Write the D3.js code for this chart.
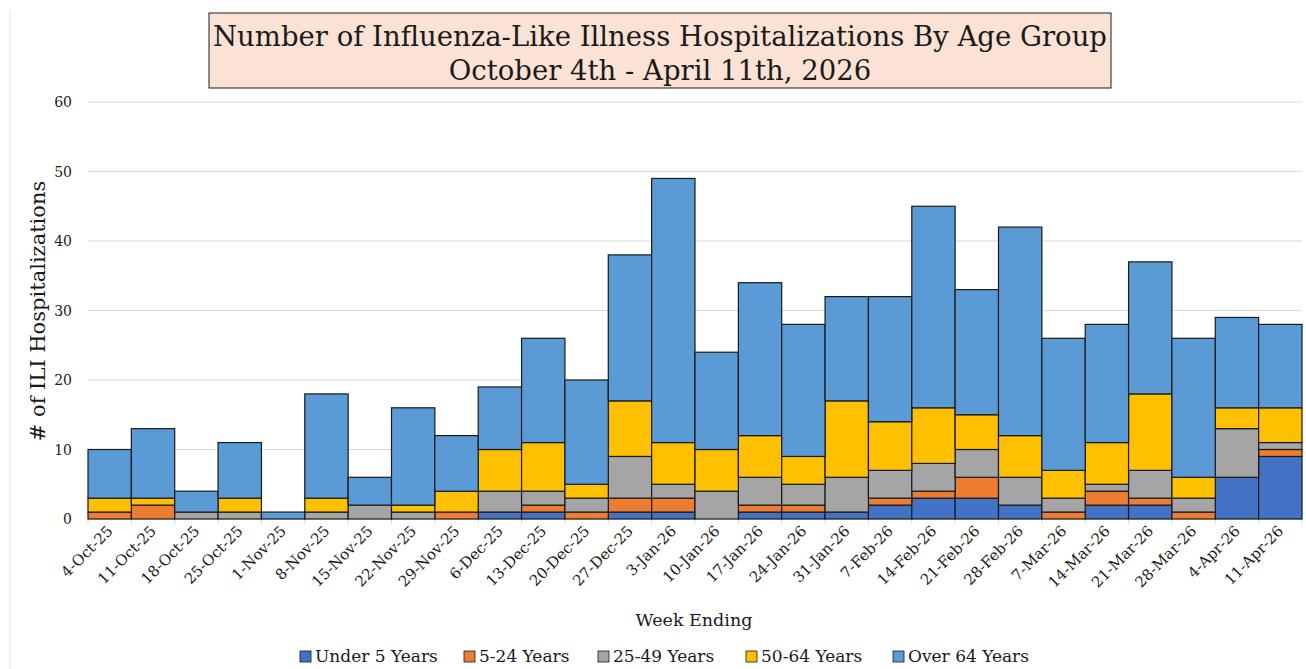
<!DOCTYPE html>
<html>
<head>
<meta charset="utf-8">
<script src="https://cdn.jsdelivr.net/npm/d3@7"></script>
<style>
    body { margin: 0; background: #fff; }
    text { font-family: "DejaVu Serif", Georgia, serif; fill: #1a1a1a; }
</style>
</head>
<body>
<script>
// week ending labels
var weeks = ["4-Oct-25", "11-Oct-25", "18-Oct-25", "25-Oct-25", "1-Nov-25", "8-Nov-25",
    "15-Nov-25", "22-Nov-25", "29-Nov-25", "6-Dec-25", "13-Dec-25", "20-Dec-25",
    "27-Dec-25", "3-Jan-26", "10-Jan-26", "17-Jan-26", "24-Jan-26", "31-Jan-26",
    "7-Feb-26", "14-Feb-26", "21-Feb-26", "28-Feb-26", "7-Mar-26", "14-Mar-26",
    "21-Mar-26", "28-Mar-26", "4-Apr-26", "11-Apr-26"];

var groups = ["Under 5 Years", "5-24 Years", "25-49 Years", "50-64 Years", "Over 64 Years"];

// counts per age group, one per week
var under5  = [0, 0, 0, 0, 0, 0, 0, 0, 0, 1, 1, 0, 1, 1, 0, 1, 1, 1, 2, 3, 3, 2, 0, 2, 2, 0, 6, 9];
var age5_24 = [1, 2, 0, 0, 0, 0, 0, 0, 1, 0, 1, 1, 2, 2, 0, 1, 1, 0, 1, 1, 3, 0, 1, 2, 1, 1, 0, 1];
var age25_49 = [0, 0, 1, 1, 0, 1, 2, 1, 0, 3, 2, 2, 6, 2, 4, 4, 3, 5, 4, 4, 4, 4, 2, 1, 4, 2, 7, 1];
var age50_64 = [2, 1, 0, 2, 0, 2, 0, 1, 3, 6, 7, 2, 8, 6, 6, 6, 4, 11, 7, 8, 5, 6, 4, 6, 11, 3, 3, 5];
var over64  = [7, 10, 3, 8, 1, 15, 4, 14, 8, 9, 15, 15, 21, 38, 14, 22, 19, 15, 18, 29, 18, 30, 19, 17, 19, 20, 13, 12];

var yTicks = [0, 10, 20, 30, 40, 50, 60];

var colors = ["#4472C4", "#ED7D31", "#A5A5A5", "#FFC000", "#5B9BD5"];

var rows = weeks.map(function(w, i) {
    return {
        week: w,
        "Under 5 Years": under5[i],
        "5-24 Years": age5_24[i],
        "25-49 Years": age25_49[i],
        "50-64 Years": age50_64[i],
        "Over 64 Years": over64[i]
    };
});

var width = 1306, height = 669;
var margin = {top: 102, right: 4, bottom: 150, left: 88};

var svg = d3.select("body")
    .append("svg")
    .attr("width", width)
    .attr("height", height);

// faint chart border on the left
svg.append("line")
    .attr("x1", 10).attr("x2", 10)
    .attr("y1", 10).attr("y2", height)
    .style("stroke", "#e6e6e6");

var x = d3.scaleBand()
    .domain(weeks)
    .range([margin.left, width - margin.right])
    .padding(0);

var y = d3.scaleLinear()
    .domain([0, 60])
    .range([height - margin.bottom, margin.top]);

// gridlines
svg.append("g")
    .selectAll("line")
    .data(yTicks)
    .enter()
    .append("line")
    .attr("x1", margin.left)
    .attr("x2", width - margin.right)
    .attr("y1", function(d) { return y(d); })
    .attr("y2", function(d) { return y(d); })
    .style("stroke", "#d9d9d9")
    .style("stroke-width", 1);

// y tick labels
svg.append("g")
    .selectAll("text")
    .data(yTicks)
    .enter()
    .append("text")
    .attr("x", 72)
    .attr("y", function(d) { return y(d) + 5; })
    .attr("text-anchor", "end")
    .style("font-size", "14px")
    .text(function(d) { return d; });

// x tick marks at band edges
svg.append("g")
    .selectAll("line")
    .data(weeks.concat([null]))
    .enter()
    .append("line")
    .attr("x1", function(d, i) { return x.range()[0] + i * x.bandwidth(); })
    .attr("x2", function(d, i) { return x.range()[0] + i * x.bandwidth(); })
    .attr("y1", y(0))
    .attr("y2", y(0) + 5)
    .style("stroke", "#d9d9d9");

// stacked bars
var stack = d3.stack().keys(groups);
var series = stack(rows);

var layer = svg.append("g")
    .selectAll("g")
    .data(series)
    .enter()
    .append("g")
    .style("fill", function(d, i) { return colors[i]; });

layer.selectAll("rect")
    .data(function(d) { return d.filter(function(p) { return p[1] > p[0]; }); })
    .enter()
    .append("rect")
    .attr("x", function(d) { return x(d.data.week); })
    .attr("y", function(d) { return y(d[1]); })
    .attr("width", x.bandwidth())
    .attr("height", function(d) { return y(d[0]) - y(d[1]); })
    .style("stroke", "#1a1a1a")
    .style("stroke-width", 1.2);

// x labels, rotated
svg.append("g")
    .selectAll("text")
    .data(weeks)
    .enter()
    .append("text")
    .attr("text-anchor", "end")
    .attr("transform", function(d) {
        return "translate(" + (x(d) + x.bandwidth() / 2 + 4) + "," + (y(0) + 13) + ") rotate(-45)";
    })
    .style("font-size", "15px")
    .text(function(d) { return d; });

// axis titles
svg.append("text")
    .attr("x", 694)
    .attr("y", 626)
    .attr("text-anchor", "middle")
    .style("font-size", "17.5px")
    .text("Week Ending");

svg.append("text")
    .attr("transform", "translate(45,311) rotate(-90)")
    .attr("text-anchor", "middle")
    .style("font-size", "21px")
    .text("# of ILI Hospitalizations");

// title box
svg.append("rect")
    .attr("x", 209)
    .attr("y", 13)
    .attr("width", 902)
    .attr("height", 75)
    .style("fill", "#FBE2D5")
    .style("stroke", "#1a1a1a")
    .style("stroke-width", 1);

svg.append("text")
    .attr("x", 660)
    .attr("y", 46)
    .attr("text-anchor", "middle")
    .style("font-size", "27.5px")
    .text("Number of Influenza-Like Illness Hospitalizations By Age Group");

svg.append("text")
    .attr("x", 660)
    .attr("y", 80)
    .attr("text-anchor", "middle")
    .style("font-size", "27.5px")
    .text("October 4th - April 11th, 2026");

// legend
var legendX = [300, 464, 598, 746, 893];
var legend = svg.append("g")
    .selectAll("g")
    .data(groups)
    .enter()
    .append("g")
    .attr("transform", function(d, i) { return "translate(" + legendX[i] + ",651)"; });

legend.append("rect")
    .attr("width", 11)
    .attr("height", 11)
    .style("fill", function(d, i) { return colors[i]; })
    .style("stroke", "#1a1a1a")
    .style("stroke-width", 0.8);

legend.append("text")
    .attr("x", 15)
    .attr("y", 11)
    .style("font-size", "17px")
    .text(function(d) { return d; });
</script>
</body>
</html>
